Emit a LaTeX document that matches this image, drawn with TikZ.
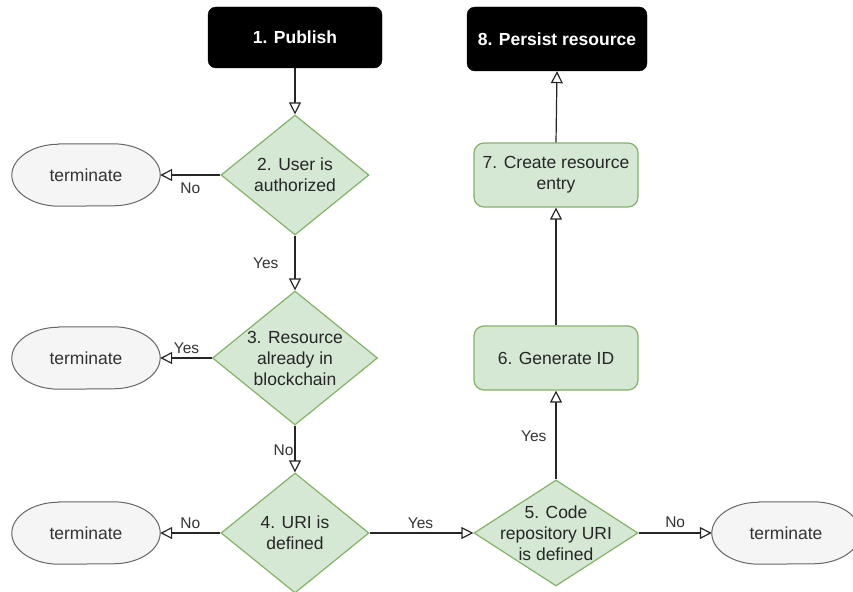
\documentclass[tikz,border=0pt]{standalone}
\usepackage{fontspec}
\setmainfont{Liberation Sans}
\usetikzlibrary{shapes.geometric,arrows.meta,backgrounds}
\definecolor{gfill}{HTML}{D5E8D4}
\definecolor{gline}{HTML}{82B366}
\definecolor{tfill}{HTML}{F5F5F5}
\definecolor{tline}{HTML}{666666}
\definecolor{ttext}{HTML}{333333}
\begin{document}
\begin{tikzpicture}[x=1pt,y=-1pt,
  font=\fontsize{17.5}{21}\selectfont,
  blackbox/.style={rectangle, rounded corners=8pt, fill=black, draw=black,
    text=white, font=\fontsize{17.5}{21}\selectfont\bfseries, inner sep=0pt},
  greenbox/.style={rectangle, rounded corners=10pt, fill=gfill, draw=gline,
    line width=1.2pt, align=center, text=black!85, inner sep=0pt,
    minimum width=164pt, minimum height=64pt},
  decision/.style={diamond, aspect=1, fill=gfill, draw=gline, line width=1.2pt,
    inner sep=0pt},
  dtext/.style={align=center, text=black!85},
  termbox/.style={rectangle, inner sep=0pt, text=ttext,
    minimum width=148pt, minimum height=62pt},
  termline/.style={fill=tfill, draw=tline, line width=1pt},
  flow/.style={draw=black!85, line width=1.2pt,
    -{Triangle[length=12pt,width=12pt,fill=white,line width=1.2pt]}},
  lbl/.style={font=\fontsize{15.5}{18}\selectfont, text=black!80, inner sep=1pt}
]
\useasboundingbox (0,0) rectangle (853,591);

% start and end
\node[blackbox, minimum width=174pt, minimum height=61pt] (pub) at (295,37.5) {1. Publish};
\node[blackbox, minimum width=180pt, minimum height=64pt] (per) at (557,39) {8. Persist resource};

% decisions
\node[decision, minimum width=148pt, minimum height=120pt,
  label={[dtext]center:2. User is\\authorized}] (d2) at (295,175) {};
\node[decision, minimum width=165pt, minimum height=134pt,
  label={[dtext]center:3. Resource\\already in\\blockchain}] (d3) at (295,358) {};
\node[decision, minimum width=148pt, minimum height=120pt,
  label={[dtext]center:4. URI is\\defined}] (d4) at (295,533) {};
\node[decision, minimum width=164pt, minimum height=106pt,
  label={[dtext]center:5. Code\\repository URI\\is defined}] (d5) at (556,533) {};

% process steps
\node[greenbox] (n6) at (556,358) {6. Generate ID};
\node[greenbox] (n7) at (556,175) {7. Create resource\\entry};

% terminal nodes
\node[termbox] (t1) at (86,175) {terminate};
\node[termbox] (t2) at (86,358) {terminate};
\node[termbox] (t3) at (86,533) {terminate};
\node[termbox] (t4) at (786,533) {terminate};

\begin{scope}[on background layer]
  \foreach \t in {t1,t2,t3,t4}
    \draw[termline] ([xshift=47pt]\t.north west) -- ([xshift=-47pt]\t.north east)
      arc[start angle=90, end angle=-90, x radius=47pt, y radius=31pt]
      -- ([xshift=47pt]\t.south west)
      arc[start angle=270, end angle=90, x radius=47pt, y radius=31pt] -- cycle;
\end{scope}

% main flow
\draw[flow] (pub.south) -- (d2.north);
\draw[flow] (d2.south) -- node[lbl, pos=0.5, left=15pt] {Yes} (d3.north);
\draw[flow] (d3.south) -- node[lbl, pos=0.52, left=0pt] {No} (d4.north);
\draw[flow] (d4.east) -- node[lbl, pos=0.49, above=3pt] {Yes} (d5.west);
\draw[flow] (d5.north) -- node[lbl, pos=0.49, left=8pt] {Yes} (n6.south);
\draw[flow] (n6.north) -- (n7.south);
\draw[flow] (n7.north) -- (per.south);

% exits
\draw[flow] (d2.west) -- node[lbl, pos=0.5, below=6pt] {No} (t1.east);
\draw[flow] (d3.west) -- node[lbl, pos=0.49, above=3pt] {Yes} (t2.east);
\draw[flow] (d4.west) -- node[lbl, pos=0.5, above=3pt] {No} (t3.east);
\draw[flow] (d5.east) -- node[lbl, pos=0.5, above=4pt] {No} (t4.west);
\end{tikzpicture}
\end{document}
